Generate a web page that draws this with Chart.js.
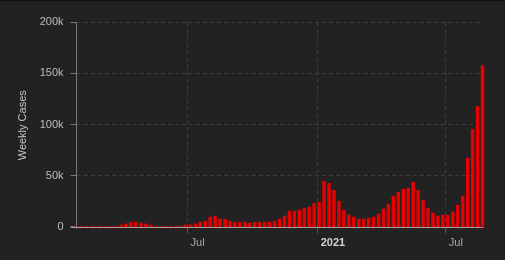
<!DOCTYPE html>
<html>
<head>
<meta charset="utf-8">
<script src="https://cdn.jsdelivr.net/npm/chart.js@4.4.0/dist/chart.umd.min.js"></script>
<style>
    html, body { margin: 0; padding: 0; background: #222; }
    #wrap { width: 505px; height: 259px; border-top: 1px solid #111; }
</style>
</head>
<body>
<div id="wrap"><canvas id="chart" width="505" height="259"></canvas></div>
<script>
// week starting dates (Sundays)
const weeks = [
    '2020-01-26', '2020-02-02', '2020-02-09', '2020-02-16', '2020-02-23',
    '2020-03-01', '2020-03-08', '2020-03-15', '2020-03-22', '2020-03-29',
    '2020-04-05', '2020-04-12', '2020-04-19', '2020-04-26',
    '2020-05-03', '2020-05-10', '2020-05-17', '2020-05-24', '2020-05-31',
    '2020-06-07', '2020-06-14', '2020-06-21', '2020-06-28',
    '2020-07-05', '2020-07-12', '2020-07-19', '2020-07-26',
    '2020-08-02', '2020-08-09', '2020-08-16', '2020-08-23', '2020-08-30',
    '2020-09-06', '2020-09-13', '2020-09-20', '2020-09-27',
    '2020-10-04', '2020-10-11', '2020-10-18', '2020-10-25',
    '2020-11-01', '2020-11-08', '2020-11-15', '2020-11-22', '2020-11-29',
    '2020-12-06', '2020-12-13', '2020-12-20', '2020-12-27',
    '2021-01-03', '2021-01-10', '2021-01-17', '2021-01-24', '2021-01-31',
    '2021-02-07', '2021-02-14', '2021-02-21', '2021-02-28',
    '2021-03-07', '2021-03-14', '2021-03-21', '2021-03-28',
    '2021-04-04', '2021-04-11', '2021-04-18', '2021-04-25',
    '2021-05-02', '2021-05-09', '2021-05-16', '2021-05-23', '2021-05-30',
    '2021-06-06', '2021-06-13', '2021-06-20', '2021-06-27',
    '2021-07-04', '2021-07-11', '2021-07-18', '2021-07-25',
    '2021-08-01', '2021-08-08', '2021-08-15', '2021-08-22'
];

const weeklyCases = [
    700, 700, 700, 700, 700, 700, 700, 700, 700,
    2300, 3300, 5000, 5000, 4100, 3300, 2300,
    700, 700, 700, 700, 700, 700,
    2300, 2400, 3300, 5000, 6000, 10000, 11000, 8000, 8000, 6000,
    5000, 5000, 5000, 4000, 5000, 5000, 5000, 5000, 6000, 8000,
    11000, 15800, 15800, 16800, 18800, 19700, 23500, 24600,
    45000, 43000, 36200, 25600, 16800, 11900, 10000, 8000, 8000, 9000,
    10000, 12900, 17800, 22600, 30400, 34300, 37200, 38200, 44000, 36200,
    26500, 18800, 13900, 11000, 11900, 11900, 14900, 21600, 30400,
    67500, 95700, 118000, 158000
];

const yTicks = [0, 50000, 100000, 150000, 200000];
const xTicks = ['2020-07-01', '2021-01-01', '2021-07-01'];

const day = s => Date.parse(s + 'T00:00:00Z');
const isJan = v => new Date(v).getUTCMonth() === 0;
const FONT = "'Liberation Sans', Arial, sans-serif";
const BASE = -1200; // bars start a hair under the zero line, like the original

// light zero line that sits on top of the bars
const zeroLine = {
    id: 'zeroLine',
    afterDatasetsDraw(chart) {
        const { ctx, chartArea, scales } = chart;
        const py = Math.round(scales.y.getPixelForValue(0)) + 0.5;
        ctx.save();
        ctx.strokeStyle = '#9c9c9c';
        ctx.lineWidth = 1;
        ctx.beginPath();
        ctx.moveTo(chartArea.left - 6, py);
        ctx.lineTo(chartArea.right, py);
        ctx.stroke();
        ctx.restore();
    }
};

new Chart(document.getElementById('chart'), {
    type: 'bar',
    data: {
        datasets: [{
            data: weeks.map((w, i) => ({ x: day(w), y: weeklyCases[i] })),
            backgroundColor: '#e60000',
            base: BASE,
            categoryPercentage: 1,
            barPercentage: 0.7,
            clip: false
        }]
    },
    options: {
        responsive: false,
        animation: false,
        layout: { padding: { top: 21.3, right: 22.5, left: 0, bottom: 0 } },
        plugins: { legend: { display: false }, tooltip: { enabled: false } },
        scales: {
            x: {
                type: 'linear',
                offset: false,
                min: day(weeks[0]),
                max: day(weeks[weeks.length - 1]),
                afterBuildTicks: s => { s.ticks = xTicks.map(d => ({ value: day(d) })); },
                afterFit: s => { s.height = 31.8; },
                grid: { offset: false, color: '#3d3d3d', tickLength: 5, tickColor: '#5a5a5a' },
                border: { display: false, dash: [4, 3] },
                ticks: {
                    align: 'start',
                    padding: 3,
                    maxRotation: 0,
                    autoSkip: false,
                    callback: v => isJan(v) ? ' ' + new Date(v).getUTCFullYear() : ' Jul',
                    font: ctx => ({ family: FONT, size: 11, weight: ctx.tick && isJan(ctx.tick.value) ? 'bold' : 'normal' }),
                    color: ctx => ctx.tick && isJan(ctx.tick.value) ? '#d4d4d4' : '#a8a8a8'
                }
            },
            y: {
                min: BASE,
                max: 200000,
                afterBuildTicks: s => { s.ticks = yTicks.map(v => ({ value: v })); },
                afterFit: s => { s.width = 76.5; },
                grid: { color: '#3d3d3d', tickLength: 6, tickColor: '#777' },
                border: { display: true, color: '#777', dash: [4, 3] },
                ticks: {
                    padding: 7,
                    color: '#bdbdbd',
                    font: { family: FONT, size: 11 },
                    callback: v => v === 0 ? '0' : (v / 1000) + 'k'
                },
                title: {
                    display: true,
                    text: 'Weekly Cases',
                    color: '#c4c4c4',
                    font: { family: FONT, size: 11 },
                    padding: { top: 16, bottom: 0 }
                }
            }
        }
    },
    plugins: [zeroLine]
});
</script>
</body>
</html>
